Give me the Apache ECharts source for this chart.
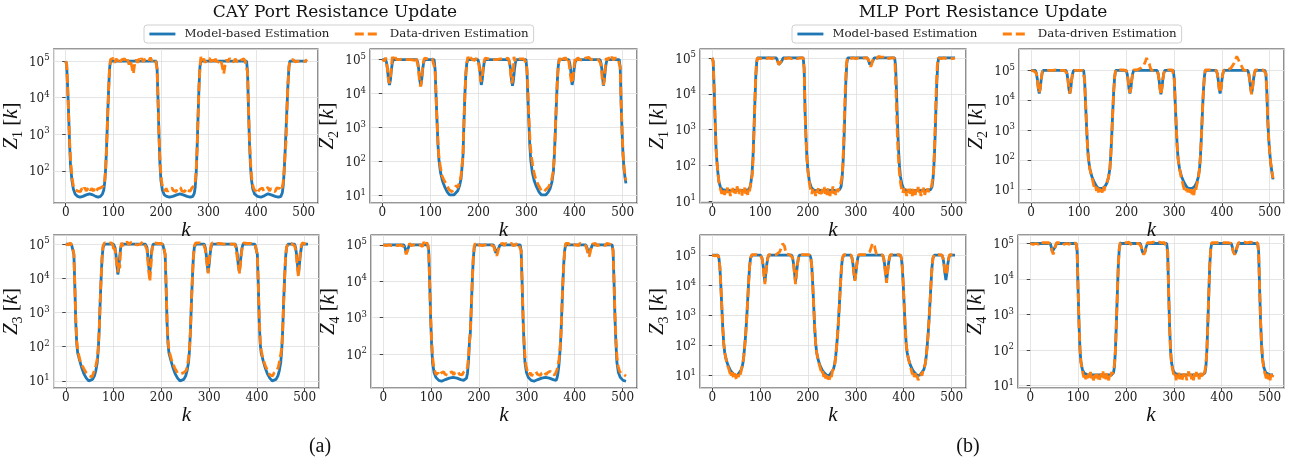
<!DOCTYPE html>
<html><head><meta charset="utf-8">
<script src="https://cdn.jsdelivr.net/npm/echarts@6/dist/echarts.min.js"></script>
<style>html,body{margin:0;padding:0;background:#fff}#c{width:1292px;height:464px}</style>
</head><body><div id="c"></div><script>
// ---------------- data: [k, Z] pairs ----------------
const SERIES_NAMES = ['Model-based Estimation', 'Data-driven Estimation'];
const TITLES = ['CAY Port Resistance Update', 'MLP Port Resistance Update'];
const CAPTIONS = ['(a)', '(b)'];

const CAY_Z1_MODEL = [[0,1e5],[2,8e4],[4,2e4],[6,4e3],[8,600],[10,150],[13,55],[16,32],[20,23],[25,20],[30,19],[36,20],[43,22],[50,23.5],[57,22],[63,20],[68,19],[73,20],[77,23],[80,30],[82,50],[84,120],[86,500],[88,3e3],[90,1.5e4],[92,6e4],[94,1e5],[190,1e5],[192,6e4],[194,8e3],[196,900],[198,150],[200,55],[203,30],[207,22],[212,20],[218,19],[225,20],[233,22],[240,23.5],[247,22],[255,20],[262,19],[267,20],[270,24],[272,35],[274,80],[276,400],[278,3e3],[280,2e4],[282,7e4],[284,1e5],[380,1e5],[382,5e4],[384,5e3],[386,600],[388,150],[390,60],[393,32],[397,23],[403,20],[410,19],[418,21],[425,23.5],[432,22],[440,20],[447,19],[452,20],[455,25],[457,40],[459,100],[461,350],[463,1.5e3],[465,6e3],[467,2.5e4],[469,7e4],[471,1e5],[507,1e5]];
const CAY_Z1_DATA = [[0,1e5],[2,8e4],[4,2e4],[6,4e3],[8,700],[10,220],[12,100],[14,55],[16,40],[19,31],[22,34],[25,28],[28,31],[31,27],[34,33],[37,29],[40,35],[43,28],[46,31],[49,36],[52,29],[55,33],[58,28],[61,32],[64,27],[67,32],[70,29],[73,34],[76,30],[79,38],[82,55],[84,120],[86,500],[88,3e3],[90,1.5e4],[92,6e4],[94,1.1e5],[97,1e5],[100,1.2e5],[103,9e4],[106,1.15e5],[109,1e5],[112,1.2e5],[115,9.5e4],[118,1.1e5],[121,1e5],[124,1.15e5],[127,9e4],[130,1.1e5],[133,8e4],[136,1.05e5],[139,7e4],[142,4.5e4],[145,8.5e4],[148,1.1e5],[151,9e4],[154,1.15e5],[157,1e5],[160,1.2e5],[163,9.5e4],[166,1.1e5],[169,1e5],[172,1.2e5],[175,1.05e5],[178,1.25e5],[181,1e5],[184,1.15e5],[187,1.3e5],[189,1e5],[192,6e4],[194,8e3],[196,900],[198,200],[200,80],[202,45],[205,33],[208,28],[211,33],[214,27],[217,31],[220,28],[223,34],[226,29],[229,32],[232,27],[235,33],[238,30],[241,35],[244,28],[247,31],[250,27],[253,33],[256,29],[259,32],[262,28],[265,34],[268,31],[270,40],[272,50],[274,100],[276,400],[278,3e3],[280,2e4],[282,7e4],[284,1.3e5],[287,1e5],[290,1.15e5],[293,9e4],[296,1.1e5],[299,1e5],[302,1.2e5],[305,9.5e4],[308,1.1e5],[311,8.5e4],[314,1.15e5],[317,1e5],[320,1.1e5],[323,9e4],[326,1.05e5],[329,7e4],[332,4.5e4],[335,8e4],[338,1.1e5],[341,9.5e4],[344,1.2e5],[347,1e5],[350,1.1e5],[353,9.5e4],[356,1.15e5],[359,1e5],[362,1.1e5],[365,9e4],[368,1.05e5],[371,1e5],[374,1.15e5],[377,1e5],[380,9e4],[382,5e4],[384,5e3],[386,700],[388,200],[390,80],[392,45],[395,33],[398,28],[401,32],[404,27],[407,31],[410,29],[413,34],[416,28],[419,32],[422,30],[425,35],[428,28],[431,33],[434,29],[437,31],[440,27],[443,34],[446,30],[449,33],[452,29],[455,36],[457,50],[459,110],[461,300],[463,700],[465,6e3],[467,2.5e4],[469,7e4],[471,1.05e5],[474,1e5],[478,1.1e5],[482,9.5e4],[486,1.05e5],[490,1e5],[494,1.1e5],[498,9.5e4],[502,1.05e5],[504,1e5],[507,1.1e5]];

const CAY_Z2_MODEL = [[0,1e5],[7,1e5],[9,8e4],[11,5e4],[13,2.5e4],[15,1.8e4],[17,2.5e4],[19,5e4],[21,8e4],[23,1e5],[72,1e5],[74,8e4],[76,5e4],[78,2.5e4],[80,1.7e4],[82,2.5e4],[84,5e4],[86,8e4],[88,1e5],[108,1e5],[110,5e4],[112,8e3],[114,1.5e3],[116,300],[118,110],[121,50],[125,28],[130,18],[135,13],[140,10.5],[144,10],[149,10.5],[153,12],[157,14],[161,20],[164,32],[166,70],[168,150],[170,1.5e3],[172,1e4],[174,4e4],[176,8e4],[178,1e5],[199,1e5],[201,8e4],[203,5e4],[205,2.5e4],[206,1.8e4],[208,2.5e4],[210,5e4],[212,8e4],[214,1e5],[263,1e5],[265,8e4],[267,5e4],[269,2.5e4],[271,1.7e4],[273,2.5e4],[275,5e4],[277,8e4],[279,1e5],[299,1e5],[301,5e4],[303,8e3],[305,1.5e3],[307,300],[309,110],[312,50],[316,28],[321,18],[326,13],[331,10.5],[335,10],[340,10.5],[345,12.5],[349,16],[353,25],[356,50],[358,150],[360,700],[362,4e3],[364,2e4],[366,6e4],[368,1e5],[388,1e5],[390,8e4],[392,5e4],[394,2.5e4],[395,1.8e4],[397,2.5e4],[399,5e4],[401,8e4],[403,1e5],[453,1e5],[455,8e4],[457,5e4],[459,2.5e4],[460,1.7e4],[462,2.5e4],[464,5e4],[466,8e4],[468,1e5],[493,1e5],[495,6e4],[497,5e3],[499,700],[501,150],[503,60],[505,35],[507,23]];
const CAY_Z2_DATA = [[0,1e5],[3,1.1e5],[5,9e4],[7,1.15e5],[9,8e4],[11,5e4],[13,2.5e4],[15,2e4],[17,3e4],[19,6e4],[21,1.2e5],[24,9.5e4],[27,1.15e5],[30,1e5],[33,1.1e5],[36,1e5],[40,1e5],[44,1.05e5],[48,1e5],[52,1e5],[56,1.05e5],[60,1e5],[64,1.1e5],[67,9.5e4],[70,1.15e5],[72,9e4],[74,7e4],[76,4e4],[78,2e4],[80,1.6e4],[82,2.5e4],[84,6e4],[86,9e4],[88,1.1e5],[92,1e5],[96,1.05e5],[100,1e5],[104,1.05e5],[108,1e5],[110,5e4],[112,8e3],[114,1.5e3],[116,350],[118,130],[121,70],[124,40],[127,32],[130,26],[133,22],[136,18],[139,15],[142,16],[145,13],[148,15],[151,14],[154,20],[157,17],[160,24],[162,30],[164,40],[166,75],[168,150],[170,1.5e3],[172,1e4],[174,4e4],[176,8e4],[178,1.2e5],[181,9.5e4],[184,1.15e5],[187,1e5],[190,1.1e5],[193,9.5e4],[196,1.1e5],[199,1e5],[201,7e4],[203,4e4],[205,2.2e4],[206,2e4],[208,3e4],[210,6e4],[212,9e4],[214,1.1e5],[218,1e5],[222,1.05e5],[226,1e5],[230,1e5],[234,1.05e5],[238,1e5],[242,1e5],[246,1.05e5],[250,1e5],[254,1.05e5],[258,1e5],[262,1.1e5],[264,9e4],[266,6e4],[268,3e4],[270,2e4],[271,1.8e4],[272,3e4],[274,1.2e5],[276,9e4],[278,1.1e5],[282,1e5],[286,1.05e5],[290,1e5],[294,1.05e5],[298,1.1e5],[300,8e4],[302,3e4],[304,5e3],[306,1e3],[308,300],[310,150],[313,80],[316,45],[319,32],[322,25],[325,20],[328,17],[331,14],[334,16],[337,13],[340,15],[343,17],[346,18],[349,22],[352,28],[355,45],[357,90],[359,300],[361,2e3],[363,1e4],[365,4e4],[367,8e4],[369,1.1e5],[372,9e4],[375,1.15e5],[378,1e5],[381,1.15e5],[384,9.5e4],[387,1.1e5],[389,7e4],[391,4e4],[393,2.5e4],[395,2e4],[397,3e4],[399,6e4],[401,1.1e5],[404,9e4],[407,1.15e5],[410,1e5],[414,1.1e5],[418,9.5e4],[422,1.1e5],[426,1e5],[430,1.15e5],[434,1e5],[438,1.1e5],[442,1.05e5],[446,1.2e5],[449,1e5],[452,1.1e5],[454,8e4],[456,5e4],[458,2.5e4],[460,1.8e4],[462,2.5e4],[464,6e4],[466,1.1e5],[469,9.5e4],[472,1.15e5],[475,1e5],[478,1.2e5],[481,9.5e4],[484,1.1e5],[487,1e5],[490,1.1e5],[493,1e5],[495,6e4],[497,5e3],[499,800],[501,170],[503,70],[505,40],[507,28]];

const CAY_Z3_MODEL = [[0,1e5],[12,1e5],[14,9e4],[17,5e4],[19,6e3],[21,500],[23,120],[25,65],[29,40],[33,25],[38,16],[43,12],[48,10],[52,10],[56,11],[60,14],[63,20],[66,35],[68,80],[70,300],[72,2e3],[74,1e4],[76,4e4],[78,8e4],[81,1e5],[100,1e5],[103,8e4],[105,5e4],[107,2.5e4],[109,1.3e4],[111,2e4],[113,4.5e4],[115,8e4],[117,1e5],[167,1e5],[170,8e4],[172,4e4],[174,2e4],[175,1.3e4],[177,2e4],[179,5e4],[181,8e4],[183,1e5],[203,1e5],[205,9e4],[208,5e4],[210,6e3],[212,500],[214,120],[216,65],[220,40],[224,25],[229,16],[234,12],[239,10],[243,10],[247,11],[251,14],[254,20],[257,35],[259,80],[261,300],[263,2e3],[265,1e4],[267,4e4],[269,8e4],[272,1e5],[290,1e5],[292,8e4],[294,5e4],[296,2.5e4],[298,1.5e4],[300,2.5e4],[302,5e4],[304,8e4],[306,1e5],[355,1e5],[357,8e4],[359,5e4],[361,2.5e4],[363,1.6e4],[365,2.5e4],[367,5e4],[369,8e4],[371,1e5],[396,1e5],[398,9e4],[401,5e4],[403,6e3],[405,500],[407,120],[409,65],[413,40],[417,25],[422,16],[427,12],[432,10],[436,10],[440,11],[444,14],[447,20],[450,35],[452,80],[454,300],[456,2e3],[458,1e4],[460,4e4],[462,8e4],[465,1e5],[479,1e5],[481,8e4],[483,5e4],[485,2.5e4],[487,1.3e4],[489,2.5e4],[491,5e4],[493,8e4],[495,1e5],[507,1e5]];
const CAY_Z3_DATA = [[0,1e5],[3,1.05e5],[6,9.5e4],[9,1.1e5],[12,1e5],[14,9e4],[17,5e4],[19,6e3],[21,600],[23,150],[25,80],[28,50],[31,35],[34,28],[37,24],[40,20],[43,17],[46,15],[49,14],[52,16],[55,13],[58,17],[61,22],[63,28],[66,45],[68,100],[70,300],[72,2e3],[74,1e4],[76,4e4],[78,9e4],[81,1.1e5],[84,1e5],[88,1.05e5],[92,1e5],[96,1.1e5],[99,9e4],[101,6e4],[103,8e4],[105,4e4],[107,2.5e4],[109,1.5e4],[111,3e4],[113,2e4],[115,8e4],[117,1.1e5],[120,9e4],[123,1.1e5],[126,1e5],[129,1.15e5],[132,9.5e4],[135,1.1e5],[138,1e5],[141,1.15e5],[144,1e5],[147,1.1e5],[150,9.5e4],[153,1.05e5],[156,1e5],[159,1.1e5],[162,1.2e5],[165,1e5],[167,9e4],[170,7e4],[172,3e4],[174,1.5e4],[176,8e3],[178,2e4],[180,6e4],[182,9e4],[184,1.1e5],[188,1e5],[192,1.05e5],[196,1e5],[200,1.05e5],[203,1e5],[205,9e4],[208,5e4],[210,6e3],[212,600],[214,150],[216,80],[219,55],[222,38],[225,30],[228,24],[231,20],[234,17],[237,15],[240,16],[243,14],[246,17],[249,16],[252,20],[254,26],[257,45],[259,90],[261,300],[263,2e3],[265,1e4],[267,4e4],[269,9e4],[272,1.1e5],[276,1e5],[280,1.1e5],[284,1e5],[288,1.05e5],[290,1e5],[292,7e4],[294,4e4],[296,2.5e4],[298,1.4e4],[300,3e4],[302,6e4],[304,9e4],[306,1.1e5],[310,1e5],[314,1.05e5],[318,1e5],[322,1.05e5],[326,1e5],[330,1e5],[334,1.05e5],[338,1e5],[342,1.05e5],[346,1e5],[350,1.05e5],[354,1e5],[356,8e4],[358,5e4],[360,3e4],[362,2e4],[364,1.4e4],[366,3e4],[368,6e4],[370,9e4],[372,1.1e5],[376,1e5],[380,1.05e5],[384,1e5],[388,1.05e5],[392,1e5],[396,1e5],[398,9e4],[401,5e4],[403,6e3],[405,600],[407,150],[409,80],[412,50],[415,35],[418,27],[421,22],[424,18],[427,15],[430,16],[433,14],[436,17],[439,15],[442,20],[445,26],[448,42],[450,45],[452,90],[454,300],[456,2e3],[458,1e4],[460,4e4],[462,8e4],[465,1.05e5],[468,1e5],[472,1.05e5],[476,1e5],[479,9e4],[481,7e4],[483,4e4],[485,2e4],[487,1.1e4],[489,3e4],[491,6e4],[493,9e4],[495,1.1e5],[499,1e5],[503,1e5],[507,1.05e5]];

const CAY_Z4_MODEL = [[0,1e5],[43,1e5],[46,8e4],[48,6e4],[49,5.5e4],[50,6e4],[52,8e4],[55,1e5],[93,1e5],[95,7e4],[97,1e4],[99,1e3],[101,200],[103,60],[106,32],[110,23],[116,19],[122,18],[130,20],[138,22],[146,23],[154,22],[162,20],[168,19],[172,20],[174,22],[176,30],[178,60],[180,200],[182,400],[184,2e3],[186,1e4],[188,4e4],[190,8e4],[192,1e5],[230,1e5],[233,8e4],[235,6e4],[237,5.5e4],[239,6e4],[241,8e4],[244,1e5],[286,1e5],[288,7e4],[290,1e4],[292,1e3],[294,200],[296,60],[299,32],[303,23],[309,19],[315,18],[323,20],[331,22],[339,23],[347,22],[355,20],[361,19],[363,22],[365,30],[367,50],[369,110],[371,300],[373,1.5e3],[375,8e3],[377,3e4],[379,7e4],[381,1e5],[423,1e5],[426,8e4],[428,6e4],[430,5.5e4],[432,6e4],[434,8e4],[437,1e5],[478,1e5],[480,7e4],[482,1e4],[484,1e3],[486,200],[488,60],[491,32],[495,23],[501,19],[507,18]];
const CAY_Z4_DATA = [[0,1e5],[3,1.1e5],[6,9.5e4],[9,1.05e5],[12,1e5],[15,1.1e5],[18,9.5e4],[21,1.05e5],[24,1e5],[27,1.1e5],[30,9.5e4],[33,1.05e5],[36,1e5],[39,1.1e5],[42,9e4],[44,8e4],[46,7e4],[48,5.5e4],[49,5e4],[51,7e4],[53,9e4],[55,1.1e5],[58,9.5e4],[61,1.05e5],[64,1e5],[67,1.1e5],[70,9.5e4],[73,1.05e5],[76,1e5],[79,1.1e5],[82,9e4],[85,1.2e5],[88,1e5],[91,1.15e5],[93,1e5],[95,7e4],[97,1e4],[99,1.2e3],[101,250],[103,90],[105,50],[108,34],[111,27],[114,31],[117,26],[120,30],[123,27],[126,33],[129,28],[132,31],[135,26],[138,30],[141,28],[144,33],[147,27],[150,31],[153,29],[156,34],[159,28],[162,30],[165,27],[168,32],[171,30],[174,36],[176,45],[178,80],[180,200],[182,400],[184,2e3],[186,1e4],[188,4e4],[190,9e4],[192,1.1e5],[195,9.5e4],[198,1.05e5],[201,1e5],[204,1.1e5],[207,9.5e4],[210,1.05e5],[213,1e5],[216,1.1e5],[219,1e5],[222,1.05e5],[225,1e5],[228,1.1e5],[231,9e4],[233,7e4],[235,6e4],[237,5e4],[239,6e4],[241,8e4],[244,1.05e5],[247,1e5],[250,1.1e5],[253,9.5e4],[256,1.1e5],[259,1e5],[262,1.05e5],[265,1e5],[268,1.1e5],[271,9.5e4],[274,1.05e5],[277,1e5],[280,1.15e5],[283,1e5],[286,1.05e5],[288,7e4],[290,1e4],[292,1.2e3],[294,250],[296,90],[298,50],[301,34],[304,27],[307,31],[310,25],[313,30],[316,27],[319,33],[322,28],[325,31],[328,26],[331,30],[334,28],[337,33],[340,27],[343,31],[346,29],[349,34],[352,28],[355,30],[358,27],[361,32],[363,38],[365,50],[367,70],[369,120],[371,300],[373,1.5e3],[375,8e3],[377,3e4],[379,7e4],[381,1.1e5],[384,1e5],[387,1.1e5],[390,9.5e4],[393,1.05e5],[396,1e5],[399,1.1e5],[402,1e5],[405,1.05e5],[408,9.5e4],[411,1.1e5],[414,1e5],[417,1.05e5],[420,1e5],[423,9.5e4],[426,7e4],[428,5.5e4],[430,4.7e4],[432,6e4],[434,8e4],[437,1.05e5],[440,1e5],[443,1.1e5],[446,9.5e4],[449,1.05e5],[452,1e5],[455,1.1e5],[458,1e5],[461,1.05e5],[464,9.5e4],[467,1.1e5],[470,1e5],[473,1.05e5],[476,1e5],[478,1e5],[480,7e4],[482,1e4],[484,1.2e3],[486,250],[488,90],[490,50],[493,36],[496,30],[499,33],[502,28],[505,30],[507,25]];

const MLP_Z1_MODEL = [[0,1e5],[2,8e4],[4,1.5e4],[6,2e3],[8,300],[10,120],[12,60],[14,35],[17,25],[21,21],[30,20],[40,20],[50,20],[60,20],[70,20],[76,21],[79,25],[81,35],[83,55],[85,150],[87,800],[89,5e3],[91,3e4],[93,8e4],[95,1e5],[134,1e5],[137,8e4],[139,6.5e4],[141,6e4],[143,6.5e4],[145,8e4],[148,1e5],[190,1e5],[192,5e4],[194,3e3],[196,500],[198,150],[200,70],[203,35],[207,24],[213,20],[230,20],[245,20],[260,20],[266,21],[269,25],[271,40],[273,100],[275,400],[277,3e3],[279,2e4],[281,7e4],[283,1e5],[324,1e5],[327,8e4],[329,6.5e4],[331,6e4],[333,6.5e4],[335,8e4],[338,1e5],[381,1e5],[383,6e4],[385,1e4],[387,1.5e3],[389,300],[391,100],[393,50],[396,30],[400,22],[407,20],[420,20],[435,20],[450,20],[456,21],[459,25],[461,40],[463,100],[465,400],[467,3e3],[469,2e4],[471,7e4],[473,1e5],[507,1e5]];
const MLP_Z1_DATA = [[0,1e5],[2,8e4],[4,1.5e4],[6,2e3],[8,300],[10,120],[12,60],[14,35],[16,25],[18,20],[20,16],[22,22],[24,18],[26,15],[28,21],[30,17],[32,24],[34,16],[36,19],[38,14],[40,22],[42,18],[44,25],[46,17],[48,20],[50,15],[52,26],[54,19],[56,16],[58,22],[60,18],[62,14],[64,21],[66,17],[68,24],[70,16],[72,20],[74,15],[76,23],[78,19],[80,28],[82,40],[84,60],[86,250],[88,2e3],[90,1.6e4],[92,6e4],[94,1e5],[97,1.05e5],[100,9.5e4],[103,1.05e5],[106,1e5],[109,1.05e5],[112,9.5e4],[115,1.05e5],[118,1e5],[121,1.05e5],[124,9.5e4],[127,1.05e5],[130,1e5],[133,1e5],[136,8.5e4],[139,6.5e4],[141,5.8e4],[143,6.5e4],[145,8.5e4],[148,1e5],[151,1.05e5],[154,9.5e4],[157,1.05e5],[160,1e5],[163,1.1e5],[166,9.5e4],[169,1.05e5],[172,1e5],[175,1.05e5],[178,9.5e4],[181,1.05e5],[184,1e5],[187,1.05e5],[190,1e5],[192,5e4],[194,3e3],[196,500],[198,150],[200,70],[202,40],[204,26],[206,20],[208,16],[210,22],[212,15],[214,19],[216,14],[218,21],[220,17],[222,24],[224,16],[226,19],[228,14],[230,22],[232,18],[234,25],[236,16],[238,20],[240,15],[242,23],[244,18],[246,14],[248,21],[250,17],[252,26],[254,16],[256,19],[258,15],[260,22],[262,18],[264,20],[266,24],[268,30],[270,40],[272,60],[274,280],[276,2e3],[278,1.5e4],[280,6e4],[282,1e5],[285,1.05e5],[288,9.5e4],[291,1.05e5],[294,1e5],[297,1.05e5],[300,9.5e4],[303,1.05e5],[306,1e5],[309,1.05e5],[312,9.5e4],[315,1.05e5],[318,1e5],[321,1.05e5],[324,1e5],[327,8.5e4],[329,6.5e4],[331,5.7e4],[333,6.5e4],[335,8.5e4],[338,1e5],[341,1.05e5],[344,9.5e4],[347,1.1e5],[350,1e5],[353,1.05e5],[356,9.5e4],[359,1.05e5],[362,1e5],[365,1.1e5],[368,9.5e4],[371,1.05e5],[374,1e5],[377,1.05e5],[380,1e5],[382,6e4],[384,1e4],[386,1.2e3],[388,250],[390,90],[392,45],[394,28],[396,21],[398,17],[400,23],[402,15],[404,19],[406,14],[408,22],[410,17],[412,25],[414,16],[416,20],[418,14],[420,23],[422,18],[424,15],[426,21],[428,17],[430,25],[432,16],[434,19],[436,14],[438,22],[440,18],[442,24],[444,15],[446,20],[448,16],[450,23],[452,18],[454,21],[456,19],[458,26],[460,40],[462,60],[464,250],[466,2e3],[468,1.5e4],[470,6e4],[472,1e5],[475,1.05e5],[478,9.5e4],[481,1.05e5],[484,1e5],[487,1.05e5],[490,9.5e4],[493,1.05e5],[496,1e5],[499,1.05e5],[502,9.5e4],[505,1e5],[507,1e5]];

const MLP_Z2_MODEL = [[0,1e5],[9,1e5],[11,8e4],[13,5e4],[15,2.5e4],[17,1.7e4],[19,2.5e4],[21,5e4],[23,8e4],[25,1e5],[73,1e5],[75,8e4],[77,5e4],[79,2.5e4],[81,1.7e4],[83,2.5e4],[85,5e4],[87,8e4],[89,1e5],[110,1e5],[112,5e4],[114,8e3],[116,1.5e3],[118,300],[120,110],[123,50],[127,28],[132,18],[137,13],[141,11],[145,10],[150,11],[155,13],[159,17],[162,25],[165,50],[167,150],[169,700],[171,4e3],[173,2e4],[175,6e4],[177,1e5],[199,1e5],[201,8e4],[203,5e4],[205,2.5e4],[207,1.7e4],[209,2.5e4],[211,5e4],[213,8e4],[215,1e5],[264,1e5],[266,8e4],[268,5e4],[270,2.5e4],[272,1.6e4],[274,2.5e4],[276,5e4],[278,8e4],[280,1e5],[298,1e5],[300,5e4],[302,8e3],[304,1.5e3],[306,300],[308,110],[311,50],[315,28],[320,18],[325,13],[329,11],[333,10],[338,11],[343,13],[347,17],[350,25],[353,50],[355,150],[357,700],[359,4e3],[361,2e4],[363,6e4],[365,1e5],[388,1e5],[390,8e4],[392,5e4],[394,2.5e4],[396,1.7e4],[398,2.5e4],[400,5e4],[402,8e4],[404,1e5],[454,1e5],[456,8e4],[458,5e4],[460,2.5e4],[462,1.7e4],[464,2.5e4],[466,5e4],[468,8e4],[470,1e5],[490,1e5],[492,8e4],[494,2e4],[496,2e3],[498,500],[500,180],[502,80],[505,35],[507,22]];
const MLP_Z2_DATA = [[0,1e5],[3,1.05e5],[6,9.5e4],[9,1.05e5],[11,8e4],[13,5e4],[15,2.5e4],[17,1.8e4],[19,2.5e4],[21,5e4],[23,9e4],[25,1.05e5],[28,9.5e4],[31,1.05e5],[34,1e5],[37,1.05e5],[40,1e5],[43,1.05e5],[46,1e5],[49,1.1e5],[52,1.05e5],[55,1.2e5],[58,1e5],[61,1.05e5],[64,1e5],[67,1.1e5],[70,1e5],[73,1e5],[75,8e4],[77,5e4],[79,2.5e4],[81,1.7e4],[83,2.5e4],[85,5e4],[87,9e4],[89,1.05e5],[92,1e5],[96,1.05e5],[100,1e5],[104,1.05e5],[108,1e5],[110,1e5],[112,5e4],[114,8e3],[116,1.5e3],[118,300],[120,110],[123,50],[126,30],[129,20],[131,14],[133,11],[135,13],[137,9],[139,12],[141,8],[143,11],[145,7],[147,10],[149,8],[151,13],[153,9],[155,14],[157,12],[159,18],[162,25],[165,50],[167,150],[169,700],[171,4e3],[173,2e4],[175,6e4],[177,1.05e5],[180,1e5],[184,1.05e5],[188,1e5],[192,1.05e5],[196,1e5],[199,1e5],[201,8e4],[203,5e4],[205,2.5e4],[207,1.8e4],[209,2.5e4],[211,5e4],[213,8e4],[215,1.05e5],[219,1e5],[223,1.05e5],[227,1.1e5],[230,1.2e5],[233,1.3e5],[236,1.5e5],[239,1.9e5],[242,2.6e5],[244,3e5],[246,2.4e5],[248,1.6e5],[250,1.2e5],[253,1e5],[257,1.05e5],[261,1e5],[264,1e5],[266,8e4],[268,5e4],[270,2.5e4],[272,1.5e4],[274,2.5e4],[276,5e4],[278,8e4],[280,1.05e5],[284,1e5],[288,1.05e5],[292,1e5],[296,1.05e5],[298,1e5],[300,5e4],[302,8e3],[304,1.5e3],[306,300],[308,110],[311,50],[314,28],[317,18],[319,13],[321,10],[323,12],[325,9],[327,11],[329,7],[331,10],[333,8],[335,12],[337,7],[339,10],[341,6.5],[343,11],[345,9],[347,14],[350,22],[353,50],[355,150],[357,700],[359,4e3],[361,2e4],[363,6e4],[365,1.05e5],[369,1e5],[373,1.05e5],[377,1e5],[381,1.05e5],[385,1e5],[388,1e5],[390,8e4],[392,5e4],[394,2.5e4],[396,1.8e4],[398,2.5e4],[400,5e4],[402,8e4],[404,1.05e5],[408,1e5],[412,1.05e5],[416,1.1e5],[419,1.2e5],[422,1.4e5],[425,1.7e5],[428,2.2e5],[431,3e5],[433,2.8e5],[435,2.2e5],[437,1.8e5],[440,1.5e5],[443,1.2e5],[446,1e5],[450,1.05e5],[454,1e5],[456,8e4],[458,5e4],[460,2.5e4],[462,1.6e4],[464,2.5e4],[466,5e4],[468,8e4],[470,1.05e5],[474,1e5],[478,1.05e5],[482,1e5],[486,1.05e5],[490,1e5],[492,8e4],[494,2e4],[496,2e3],[498,500],[500,180],[502,80],[505,38],[507,24]];

const MLP_Z3_MODEL = [[0,1e5],[12,1e5],[14,8e4],[16,4e4],[18,1e4],[20,2e3],[22,400],[24,120],[26,60],[29,35],[33,22],[38,15],[43,12],[48,10],[53,10.5],[57,12],[61,16],[64,25],[66,45],[68,100],[70,250],[72,800],[74,3e3],[76,1.2e4],[78,4e4],[80,8e4],[83,1e5],[101,1e5],[104,8e4],[106,5e4],[108,2.5e4],[110,1.3e4],[112,2.5e4],[114,5e4],[116,8e4],[118,1e5],[166,1e5],[168,8e4],[170,5e4],[172,2.5e4],[174,1.3e4],[176,2.5e4],[178,5e4],[180,8e4],[182,1e5],[204,1e5],[206,8e4],[208,4e4],[210,1e4],[212,2e3],[214,400],[216,120],[218,60],[221,35],[225,22],[230,15],[235,12],[240,10],[245,10.5],[249,12],[253,16],[256,25],[258,45],[260,100],[262,250],[264,800],[266,3e3],[268,1.2e4],[270,4e4],[272,8e4],[275,1e5],[290,1e5],[292,8e4],[294,5e4],[296,2.5e4],[298,1.5e4],[300,2.5e4],[302,5e4],[304,8e4],[306,1e5],[356,1e5],[358,8e4],[360,5e4],[362,2.5e4],[364,1.4e4],[366,2.5e4],[368,5e4],[370,8e4],[372,1e5],[393,1e5],[395,8e4],[397,4e4],[399,1e4],[401,2e3],[403,400],[405,120],[407,60],[410,35],[414,22],[419,15],[424,12],[429,10],[434,10.5],[438,12],[442,16],[445,25],[447,45],[449,100],[451,250],[453,800],[455,3e3],[457,1.2e4],[459,4e4],[461,8e4],[464,1e5],[480,1e5],[482,8e4],[484,5e4],[486,2.5e4],[488,1.5e4],[490,2.5e4],[492,5e4],[494,8e4],[496,1e5],[507,1e5]];
const MLP_Z3_DATA = [[0,1e5],[3,1.05e5],[6,9.5e4],[9,1.05e5],[12,1e5],[14,8e4],[16,4e4],[18,1e4],[20,2e3],[22,400],[24,120],[26,60],[29,35],[32,22],[35,16],[37,12],[39,9],[41,13],[43,10],[45,8],[47,12],[49,9],[51,7],[53,11],[55,9],[57,13],[59,11],[61,16],[64,25],[66,45],[68,100],[70,250],[72,800],[74,3e3],[76,1.2e4],[78,4e4],[80,8e4],[83,1.05e5],[87,1e5],[91,1.05e5],[95,1e5],[99,1.05e5],[101,1e5],[104,8e4],[106,5e4],[108,2.2e4],[110,1.1e4],[112,2.5e4],[114,5e4],[116,8e4],[118,1.05e5],[122,1e5],[126,1.05e5],[130,1e5],[134,1.05e5],[138,1.1e5],[141,1.3e5],[144,1.7e5],[147,2.4e5],[149,2.6e5],[151,2e5],[153,1.4e5],[155,1.1e5],[158,1e5],[162,1.05e5],[166,1e5],[168,8e4],[170,5e4],[172,2.2e4],[174,1.1e4],[176,2.5e4],[178,5e4],[180,8e4],[182,1.05e5],[186,1e5],[190,1.05e5],[194,1e5],[198,1.05e5],[202,1e5],[204,1e5],[206,8e4],[208,4e4],[210,1e4],[212,2e3],[214,400],[216,120],[218,60],[221,35],[224,22],[227,15],[229,11],[231,14],[233,9],[235,12],[237,8],[239,10],[241,7],[243,9],[245,7.5],[247,11],[249,9],[251,14],[253,17],[256,25],[258,45],[260,100],[262,250],[264,800],[266,3e3],[268,1.2e4],[270,4e4],[272,8e4],[275,1.05e5],[279,1e5],[283,1.05e5],[287,1e5],[290,1e5],[292,8e4],[294,5e4],[296,2.5e4],[298,1.4e4],[300,2.5e4],[302,5e4],[304,8e4],[306,1.05e5],[310,1e5],[314,1.05e5],[318,1e5],[322,1.05e5],[326,1.1e5],[329,1.3e5],[332,1.8e5],[335,2.5e5],[337,2.6e5],[339,2e5],[341,1.4e5],[343,1.1e5],[346,1e5],[350,1.05e5],[354,1e5],[356,1e5],[358,8e4],[360,5e4],[362,2.2e4],[364,1.2e4],[366,2.5e4],[368,5e4],[370,8e4],[372,1.05e5],[376,1e5],[380,1.05e5],[384,1e5],[388,1.05e5],[393,1e5],[395,8e4],[397,4e4],[399,1e4],[401,2e3],[403,400],[405,120],[407,60],[410,35],[413,22],[416,15],[418,11],[420,14],[422,9],[424,12],[426,8],[428,10],[430,7],[432,9],[434,8],[436,12],[438,10],[440,14],[442,17],[445,25],[447,45],[449,100],[451,250],[453,800],[455,3e3],[457,1.2e4],[459,4e4],[461,8e4],[464,1.05e5],[468,1e5],[472,1.05e5],[476,1e5],[480,1e5],[482,8e4],[484,5e4],[486,2.8e4],[488,2.2e4],[490,3e4],[492,5e4],[494,8e4],[496,1.05e5],[500,1e5],[504,1.05e5],[507,1e5]];

const MLP_Z4_MODEL = [[0,1e5],[42,1e5],[44,8e4],[46,6e4],[48,5.5e4],[50,6e4],[52,8e4],[55,1e5],[96,1e5],[98,6e4],[100,5e3],[102,500],[104,100],[106,45],[109,28],[113,22],[120,20],[130,20],[140,20],[150,20],[160,20],[170,20],[174,23],[176,35],[178,100],[180,600],[182,4e3],[184,2.5e4],[186,7e4],[188,1e5],[230,1e5],[232,8e4],[234,6e4],[237,5e4],[240,6e4],[242,8e4],[245,1e5],[285,1e5],[287,6e4],[289,5e3],[291,500],[293,100],[295,45],[298,28],[302,22],[310,20],[320,20],[330,20],[340,20],[350,20],[360,20],[365,23],[367,35],[369,100],[371,600],[373,4e3],[375,2.5e4],[377,7e4],[379,1e5],[420,1e5],[422,8e4],[424,6e4],[427,5e4],[430,6e4],[432,8e4],[435,1e5],[475,1e5],[477,6e4],[479,6e3],[481,700],[483,150],[485,60],[488,32],[492,23],[500,20],[507,20]];
const MLP_Z4_DATA = [[0,1e5],[3,1.05e5],[6,9.5e4],[9,1.05e5],[12,1e5],[15,1.05e5],[18,9.5e4],[21,1.1e5],[24,1e5],[27,1.05e5],[30,9.5e4],[33,1.05e5],[36,1e5],[39,1.05e5],[42,1e5],[44,8e4],[46,6e4],[48,5e4],[50,6e4],[52,8e4],[55,1.05e5],[58,9.5e4],[61,1.05e5],[64,1e5],[67,1.1e5],[70,9.5e4],[73,1.05e5],[76,1e5],[79,1.05e5],[82,9.5e4],[85,1.1e5],[88,1e5],[91,1.05e5],[94,1e5],[96,1e5],[98,6e4],[100,5e3],[102,500],[104,100],[106,45],[108,30],[110,22],[112,17],[114,21],[116,15],[118,19],[120,14],[122,22],[124,17],[126,24],[128,16],[130,20],[132,14],[134,18],[136,23],[138,16],[140,21],[142,15],[144,19],[146,14],[148,22],[150,17],[152,25],[154,16],[156,20],[158,15],[160,23],[162,17],[164,14],[166,21],[168,18],[170,24],[172,21],[174,26],[176,40],[178,100],[180,600],[182,4e3],[184,2.5e4],[186,7e4],[188,1.05e5],[191,1e5],[194,1.05e5],[197,9.5e4],[200,1.05e5],[203,1e5],[206,1.1e5],[209,9.5e4],[212,1.05e5],[215,1e5],[218,1.05e5],[221,1e5],[224,1.1e5],[227,1e5],[230,1e5],[232,8e4],[234,6e4],[237,4.8e4],[240,6e4],[242,8e4],[245,1.05e5],[248,1e5],[251,1.05e5],[254,9.5e4],[257,1.1e5],[260,1e5],[263,1.05e5],[266,1e5],[269,1.1e5],[272,1e5],[275,1.05e5],[278,9.5e4],[281,1.05e5],[285,1e5],[287,6e4],[289,5e3],[291,500],[293,100],[295,45],[297,30],[299,22],[301,17],[303,21],[305,14],[307,19],[309,16],[311,23],[313,15],[315,20],[317,14],[319,18],[321,22],[323,16],[325,20],[327,14],[329,19],[331,25],[333,17],[335,21],[337,15],[339,19],[341,14],[343,22],[345,17],[347,24],[349,16],[351,20],[353,15],[355,23],[357,18],[359,21],[361,17],[363,22],[365,26],[367,40],[369,100],[371,600],[373,4e3],[375,2.5e4],[377,7e4],[379,1.05e5],[382,1e5],[385,1.05e5],[388,9.5e4],[391,1.05e5],[394,1e5],[397,1.1e5],[400,1e5],[403,1.05e5],[406,9.5e4],[409,1.05e5],[412,1e5],[415,1.05e5],[418,1e5],[420,1e5],[422,8e4],[424,6e4],[427,4.8e4],[430,6e4],[432,8e4],[435,1.05e5],[438,1e5],[441,1.05e5],[444,9.5e4],[447,1.1e5],[450,1e5],[453,1.05e5],[456,1e5],[459,1.1e5],[462,1e5],[465,1.05e5],[468,1e5],[471,1.15e5],[473,1.05e5],[475,1e5],[477,6e4],[479,6e3],[481,700],[483,150],[485,60],[487,35],[489,25],[491,20],[493,16],[495,22],[497,15],[499,19],[501,14],[503,21],[505,16],[507,20]];

// ---------------- layout / style ----------------
const SERIF = 'DejaVu Serif';
const MATH = 'Liberation Serif';
const BLUE = '#1f77b4', ORANGE = '#ff7f0e';
const PANELS = [
  {m: CAY_Z1_MODEL, d: CAY_Z1_DATA, sub: 1, left: 53,   top: 49,  w: 265, h: 154, ylo: 1.12, yhi: 5.33},
  {m: CAY_Z2_MODEL, d: CAY_Z2_DATA, sub: 2, left: 370,  top: 49,  w: 267, h: 154, ylo: 0.785, yhi: 5.31},
  {m: CAY_Z3_MODEL, d: CAY_Z3_DATA, sub: 3, left: 53,   top: 235, w: 266, h: 153, ylo: 0.79, yhi: 5.27},
  {m: CAY_Z4_MODEL, d: CAY_Z4_DATA, sub: 4, left: 371,  top: 235, w: 266, h: 153, ylo: 1.07, yhi: 5.27},
  {m: MLP_Z1_MODEL, d: MLP_Z1_DATA, sub: 1, left: 700,  top: 49,  w: 266, h: 154, ylo: 0.95, yhi: 5.25},
  {m: MLP_Z2_MODEL, d: MLP_Z2_DATA, sub: 2, left: 1019, top: 49,  w: 265, h: 154, ylo: 0.55, yhi: 5.72},
  {m: MLP_Z3_MODEL, d: MLP_Z3_DATA, sub: 3, left: 700,  top: 235, w: 266, h: 153, ylo: 0.59, yhi: 5.67},
  {m: MLP_Z4_MODEL, d: MLP_Z4_DATA, sub: 4, left: 1018, top: 235, w: 266, h: 153, ylo: 0.93, yhi: 5.24}
];
const X_MIN = -25.5, X_MAX = 530;

const grid = [], xAxis = [], yAxis = [], series = [];
PANELS.forEach((p, i) => {
  grid.push({left: p.left, top: p.top, width: p.w, height: p.h, show: true,
    borderColor: '#333', borderWidth: 1.1, backgroundColor: 'transparent', containLabel: false});
  xAxis.push({type: 'value', gridIndex: i, min: X_MIN, max: X_MAX, splitNumber: 5,
    axisLine: {show: false},
    axisTick: {show: true, length: 3.5, lineStyle: {color: '#333', width: 0.9}},
    axisLabel: {margin: 4, color: '#222', fontFamily: SERIF, fontSize: 12,
      showMinLabel: false, showMaxLabel: false,
      formatter: v => (Math.abs(v % 100) < 1e-9 ? String(v) : '')},
    splitLine: {show: true, lineStyle: {color: '#dedede', width: 0.8}},
    name: '{i|k}', nameLocation: 'middle', nameGap: 15,
    nameTextStyle: {rich: {i: {fontFamily: MATH, fontStyle: 'italic', fontSize: 21, color: '#111'}}}
  });
  yAxis.push({type: 'log', logBase: 10, gridIndex: i,
    min: Math.pow(10, p.ylo), max: Math.pow(10, p.yhi),
    axisLine: {show: false},
    axisTick: {show: true, length: 3.5, lineStyle: {color: '#333', width: 0.9}},
    axisLabel: {margin: 4, color: '#222', fontFamily: SERIF, fontSize: 12,
      showMinLabel: false, showMaxLabel: false,
      formatter: v => {
        const e = Math.log10(v), r = Math.round(e);
        return Math.abs(e - r) < 1e-6 ? '{b|10}{s|' + r + '}' : '';
      },
      rich: {
        b: {fontFamily: SERIF, fontSize: 12, color: '#222', lineHeight: 15, verticalAlign: 'bottom'},
        s: {fontFamily: SERIF, fontSize: 8.5, color: '#222', lineHeight: 9, verticalAlign: 'top'}
      }},
    splitLine: {show: true, lineStyle: {color: '#dedede', width: 0.8}},
    name: '{i|Z}{s|' + p.sub + '}{n| [}{i|k}{n|]}', nameLocation: 'middle', nameGap: 24, nameRotate: 90,
    nameTextStyle: {rich: {
      i: {fontFamily: MATH, fontStyle: 'italic', fontSize: 21, color: '#111', verticalAlign: 'top', lineHeight: 22},
      s: {fontFamily: MATH, fontSize: 14, color: '#111', verticalAlign: 'top', lineHeight: 14, padding: [10, 0, 0, 0]},
      n: {fontFamily: MATH, fontSize: 21, color: '#111', verticalAlign: 'top', lineHeight: 22}
    }}
  });
  series.push({name: SERIES_NAMES[0], type: 'line', xAxisIndex: i, yAxisIndex: i, data: p.m,
    symbol: 'none', showSymbol: false, smooth: false, z: 2,
    lineStyle: {color: BLUE, width: 2.8}, itemStyle: {color: BLUE}});
  series.push({name: SERIES_NAMES[1], type: 'line', xAxisIndex: i, yAxisIndex: i, data: p.d,
    symbol: 'none', showSymbol: false, smooth: false, z: 3,
    lineStyle: {color: ORANGE, width: 2.8, type: [9, 4]}, itemStyle: {color: ORANGE}});
});

const legendBase = {
  data: SERIES_NAMES, top: 25, orient: 'horizontal', itemWidth: 26, itemHeight: 12, itemGap: 24,
  padding: [3, 5, 3, 4], borderColor: '#d0d0d0', borderWidth: 1, borderRadius: 3,
  backgroundColor: 'rgba(255,255,255,0.9)',
  itemStyle: {opacity: 0, borderWidth: 0},
  lineStyle: {width: 2.8},
  textStyle: {fontFamily: SERIF, fontSize: 11.8, color: '#222', padding: [0, 0, 0, 4]},
  selectedMode: false
};

const option = {
  animation: false,
  backgroundColor: '#fff',
  grid, xAxis, yAxis, series,
  legend: [Object.assign({}, legendBase, {left: 144}), Object.assign({}, legendBase, {left: 792})],
  graphic: [
    {type: 'text', x: 335, y: 13, style: {text: TITLES[0], fontFamily: SERIF, fontSize: 17, fill: '#111', align: 'center', verticalAlign: 'middle'}},
    {type: 'text', x: 983, y: 13, style: {text: TITLES[1], fontFamily: SERIF, fontSize: 17, fill: '#111', align: 'center', verticalAlign: 'middle'}},
    {type: 'text', x: 320, y: 447, style: {text: CAPTIONS[0], fontFamily: MATH, fontSize: 20, fill: '#111', align: 'center', verticalAlign: 'middle'}},
    {type: 'text', x: 968, y: 447, style: {text: CAPTIONS[1], fontFamily: MATH, fontSize: 20, fill: '#111', align: 'center', verticalAlign: 'middle'}}
  ]
};
const chart = echarts.init(document.getElementById('c'), null, {renderer: 'canvas'});
chart.setOption(option);
</script></body></html>
